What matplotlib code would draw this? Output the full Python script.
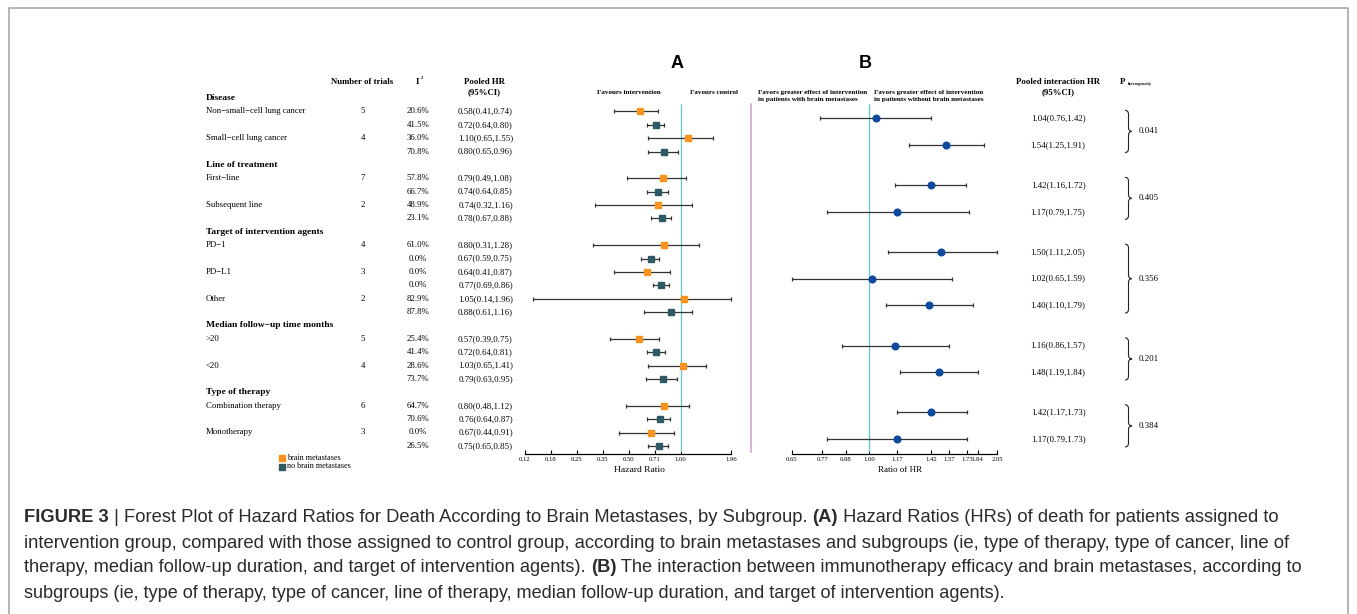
import matplotlib
matplotlib.use("Agg")
import matplotlib.pyplot as plt
from matplotlib.path import Path
from matplotlib.patches import PathPatch
from matplotlib import font_manager

# ---------------- data ----------------
sections = ["Disease", "Line of treatment", "Target of intervention agents",
            "Median follow\u2212up time months", "Type of therapy"]
subgroups = ["Non\u2212small\u2212cell lung cancer", "Small\u2212cell lung cancer",
             "First\u2212line", "Subsequent line",
             "PD\u22121", "PD\u2212L1", "Other",
             ">20", "<20",
             "Combination therapy", "Monotherapy"]
section_of = [0, 0, 1, 1, 2, 2, 2, 3, 3, 4, 4]
n_trials = [5, 4, 7, 2, 4, 3, 2, 5, 4, 6, 3]
i2_bm = ["20.6%", "36.0%", "57.8%", "48.9%", "61.0%", "0.0%", "82.9%", "25.4%", "28.6%", "64.7%", "0.0%"]
i2_nbm = ["41.5%", "70.8%", "66.7%", "23.1%", "0.0%", "0.0%", "87.8%", "41.4%", "73.7%", "70.6%", "26.5%"]
hr_bm = [0.58, 1.10, 0.79, 0.74, 0.80, 0.64, 1.05, 0.57, 1.03, 0.80, 0.67]
lo_bm = [0.41, 0.65, 0.49, 0.32, 0.31, 0.41, 0.14, 0.39, 0.65, 0.48, 0.44]
hi_bm = [0.74, 1.55, 1.08, 1.16, 1.28, 0.87, 1.96, 0.75, 1.41, 1.12, 0.91]
hr_nbm = [0.72, 0.80, 0.74, 0.78, 0.67, 0.77, 0.88, 0.72, 0.79, 0.76, 0.75]
lo_nbm = [0.64, 0.65, 0.64, 0.67, 0.59, 0.69, 0.61, 0.64, 0.63, 0.64, 0.65]
hi_nbm = [0.80, 0.96, 0.85, 0.88, 0.75, 0.86, 1.16, 0.81, 0.95, 0.87, 0.85]
int_hr = [1.04, 1.54, 1.42, 1.17, 1.50, 1.02, 1.40, 1.16, 1.48, 1.42, 1.17]
int_lo = [0.76, 1.25, 1.16, 0.79, 1.11, 0.65, 1.10, 0.86, 1.19, 1.17, 0.79]
int_hi = [1.42, 1.91, 1.72, 1.75, 2.05, 1.59, 1.79, 1.57, 1.84, 1.73, 1.73]
p_het = ["0.041", "0.405", "0.356", "0.201", "0.384"]

ticks_A = [0.125, 0.177, 0.25, 0.354, 0.5, 0.707, 1.0, 1.96]
ticklabels_A = ["0.12", "0.18", "0.25", "0.35", "0.50", "0.71", "1.00", "1.96"]
ticks_B = [0.65, 0.77, 0.88, 1.00, 1.17, 1.42, 1.57, 1.73, 1.84, 2.05]
ticklabels_B = ["0.65", "0.77", "0.88", "1.00", "1.17", "1.42", "1.57", "1.73", "1.84", "2.05"]

# ---------------- layout ----------------
W, H = 1357, 614
SERIF = "Liberation Serif"
SANS = "Liberation Sans"
C_BM = "#F7931E"
C_NBM = "#2F5A63"
C_INT = "#0D4A9E"
C_REF = "#62C3CF"
C_SEP = "#C9A3CF"
C_CI = "#333333"

def has_font(name):
    try:
        font_manager.findfont(font_manager.FontProperties(family=name), fallback_to_default=False)
        return True
    except Exception:
        return False

CAP_FONT = SANS
for cand in ["Liberation Sans Narrow", "Arial Narrow"]:
    if has_font(cand):
        CAP_FONT = cand
        break

Y0, STEP = 98.0, 13.38

def rowy(r):
    return Y0 + STEP * r

header_rows, bm_rows, nbm_rows = [], [], []
r = 0
for s in range(len(sections)):
    header_rows.append(r)
    r += 1
    for i, so in enumerate(section_of):
        if so == s:
            bm_rows.append(r)
            nbm_rows.append(r + 1)
            r += 2

fig = plt.figure(figsize=(W / 100, H / 100), dpi=100)
ax0 = fig.add_axes([0, 0, 1, 1])
ax0.set_xlim(0, W)
ax0.set_ylim(H, 0)
ax0.axis("off")

def rect(x0, y0, x1, y1):
    return [x0 / W, 1 - y1 / H, (x1 - x0) / W, (y1 - y0) / H]

# frame
ax0.plot([9, 9, 1348, 1348], [H, 8, 8, H], color="#A8A8A8", lw=1.2, solid_capstyle="butt")

# ---------------- table ----------------
FS = 6.3
ax0.text(362.5, 82, "Number of trials", family=SERIF, fontsize=FS, fontweight="bold", ha="center", va="center")
ax0.text(417, 82, "I", family=SERIF, fontsize=FS, fontweight="bold", ha="center", va="center")
ax0.text(420.5, 78, "2", family=SERIF, fontsize=3.3, fontweight="bold", ha="left", va="center")
ax0.text(484, 82, "Pooled HR", family=SERIF, fontsize=FS, fontweight="bold", ha="center", va="center")
ax0.text(484, 92.5, "(95%CI)", family=SERIF, fontsize=FS, fontweight="bold", ha="center", va="center")

for s, hr_ in zip(sections, header_rows):
    ax0.text(206, rowy(hr_), s, family=SERIF, fontsize=6.8, fontweight="bold", ha="left", va="center")

for i in range(len(subgroups)):
    yb, yn = rowy(bm_rows[i]), rowy(nbm_rows[i])
    ax0.text(206, yb, subgroups[i], family=SERIF, fontsize=FS, ha="left", va="center")
    ax0.text(363, yb, str(n_trials[i]), family=SERIF, fontsize=FS, ha="center", va="center")
    ax0.text(418, yb, i2_bm[i], family=SERIF, fontsize=FS, ha="center", va="center")
    ax0.text(418, yn, i2_nbm[i], family=SERIF, fontsize=FS, ha="center", va="center")
    ax0.text(485.5, yb, f"{hr_bm[i]:.2f}({lo_bm[i]:.2f},{hi_bm[i]:.2f})", family=SERIF, fontsize=FS, ha="center", va="center")
    ax0.text(485.5, yn, f"{hr_nbm[i]:.2f}({lo_nbm[i]:.2f},{hi_nbm[i]:.2f})", family=SERIF, fontsize=FS, ha="center", va="center")
    ax0.text(1058, (yb + yn) / 2, f"{int_hr[i]:.2f}({int_lo[i]:.2f},{int_hi[i]:.2f})", family=SERIF, fontsize=FS, ha="center", va="center")

# panel letters and headers
ax0.text(677, 64, "A", family=SANS, fontsize=13, fontweight="bold", ha="center", va="center")
ax0.text(865, 64, "B", family=SANS, fontsize=13, fontweight="bold", ha="center", va="center")
ax0.text(629, 92, "Favours intervention", family=SERIF, fontsize=5.1, fontweight="bold", ha="center", va="center")
ax0.text(714, 92, "Favours control", family=SERIF, fontsize=5.1, fontweight="bold", ha="center", va="center")
for xh, txt in [(758, "Favors greater effect of intervention\nin patients with brain metastases"),
                (874, "Favors greater effect of intervention\nin patients without brain metastases")]:
    ax0.text(xh, 96, txt, family=SERIF, fontsize=5.1, fontweight="bold", ha="left", va="center", linespacing=1.35)
ax0.text(1058, 82, "Pooled interaction HR", family=SERIF, fontsize=FS, fontweight="bold", ha="center", va="center")
ax0.text(1058, 92, "(95%CI)", family=SERIF, fontsize=FS, fontweight="bold", ha="center", va="center")
ax0.text(1123, 82, "P", family=SERIF, fontsize=FS, fontweight="bold", ha="center", va="center")
ax0.text(1128, 83.5, "heterogeneity", family=SERIF, fontsize=3, fontweight="bold", ha="left", va="center")

# separator line
ax0.plot([751, 751], [104, 452], color=C_SEP, lw=1.1)

def brace(x, yt, yb, w=7, rr=4):
    ym = (yt + yb) / 2
    xm = x + w / 2
    verts = [(x, yt), (xm, yt), (xm, yt + rr), (xm, ym - rr), (xm, ym), (x + w, ym),
             (xm, ym), (xm, ym + rr), (xm, yb - rr), (xm, yb), (x, yb)]
    codes = [Path.MOVETO, Path.CURVE3, Path.CURVE3, Path.LINETO, Path.CURVE3, Path.CURVE3,
             Path.CURVE3, Path.CURVE3, Path.LINETO, Path.CURVE3, Path.CURVE3]
    ax0.add_patch(PathPatch(Path(verts, codes), fill=False, lw=0.8, ec="#222222"))

for s in range(len(sections)):
    idx = [i for i, so in enumerate(section_of) if so == s]
    yt = rowy(bm_rows[idx[0]]) - 1
    yb = rowy(nbm_rows[idx[-1]]) + 1
    brace(1125, yt, yb)
    ax0.text(1139, (yt + yb) / 2, p_het[s], family=SERIF, fontsize=FS, ha="left", va="center")

# ---------------- forest axes ----------------
AX_BOTTOM = 454
bottom_row = (AX_BOTTOM - Y0) / STEP
top_row = -0.45

def setup(ax, ticks, labels, lo, hi):
    ax.set_xscale("log", base=2)
    ax.set_xlim(lo, hi)
    ax.set_ylim(bottom_row, top_row)
    ax.patch.set_alpha(0)
    for sp in ["top", "left", "right"]:
        ax.spines[sp].set_visible(False)
    ax.spines["bottom"].set_linewidth(0.9)
    ax.set_yticks([])
    ax.set_xticks(ticks)
    ax.set_xticklabels(labels, family=SERIF, fontsize=4.8)
    ax.minorticks_off()
    ax.tick_params(axis="x", direction="in", length=3, width=0.8, pad=2.5)

axA = fig.add_axes(rect(525, Y0 + STEP * top_row, 731, AX_BOTTOM))
setup(axA, ticks_A, ticklabels_A, 0.125, 1.96)
axA.vlines(1.0, 0.45, bottom_row - 0.15, color=C_REF, lw=0.9)
axA.errorbar(hr_bm, bm_rows, xerr=[[h - l for h, l in zip(hr_bm, lo_bm)], [u - h for h, u in zip(hr_bm, hi_bm)]],
             fmt="s", color=C_BM, ms=5, ecolor=C_CI, elinewidth=0.9, capsize=1.6, capthick=0.9, clip_on=False, zorder=3)
axA.errorbar(hr_nbm, nbm_rows, xerr=[[h - l for h, l in zip(hr_nbm, lo_nbm)], [u - h for h, u in zip(hr_nbm, hi_nbm)]],
             fmt="s", color=C_NBM, ms=5, ecolor=C_CI, elinewidth=0.9, capsize=1.6, capthick=0.9, clip_on=False, zorder=3)

axB = fig.add_axes(rect(792, Y0 + STEP * top_row, 997, AX_BOTTOM))
setup(axB, ticks_B, ticklabels_B, 0.65, 2.05)
axB.vlines(1.0, 0.45, bottom_row - 0.15, color=C_REF, lw=0.9)
mid_rows = [b + 0.5 for b in bm_rows]
axB.errorbar(int_hr, mid_rows, xerr=[[h - l for h, l in zip(int_hr, int_lo)], [u - h for h, u in zip(int_hr, int_hi)]],
             fmt="o", color=C_INT, ms=4.8, ecolor=C_CI, elinewidth=0.9, capsize=1.6, capthick=0.9, clip_on=False, zorder=3)

ax0.text(639, 470, "Hazard Ratio", family=SERIF, fontsize=6.8, ha="center", va="center")
ax0.text(900, 470, "Ratio of HR", family=SERIF, fontsize=6.5, ha="center", va="center")

# legend
ax0.plot([282], [457.5], marker="s", ms=4.2, color=C_BM, ls="none")
ax0.plot([282], [466.5], marker="s", ms=4.2, color=C_NBM, ls="none")
ax0.text(287, 457.5, "brain metastases", family=SERIF, fontsize=5.9, ha="left", va="center")
ax0.text(287, 466.5, "no brain metastases", family=SERIF, fontsize=5.9, ha="left", va="center")

# ---------------- caption ----------------
cap_lines = [
    [("FIGURE 3", "bold"), (" | Forest Plot of Hazard Ratios for Death According to Brain Metastases, by Subgroup. ", "normal"),
     ("(A)", "bold"), (" Hazard Ratios (HRs) of death for patients assigned to", "normal")],
    [("intervention group, compared with those assigned to control group, according to brain metastases and subgroups (ie, type of therapy, type of cancer, line of", "normal")],
    [("therapy, median follow-up duration, and target of intervention agents). ", "normal"), ("(B)", "bold"),
     (" The interaction between immunotherapy efficacy and brain metastases, according to", "normal")],
    [("subgroups (ie, type of therapy, type of cancer, line of therapy, median follow-up duration, and target of intervention agents).", "normal")],
]
cap_y = [518, 543, 568, 594]
cap_end = [1292, 1316, 1295, 1005]
renderer = fig.canvas.get_renderer()

def draw_caption_line(segs, x, y, size):
    arts = []
    cx = x
    for txt, wt in segs:
        t = ax0.text(cx, y, txt, family=CAP_FONT, fontsize=size, fontweight=wt, color="#2B2B2B",
                     ha="left", va="center")
        bb = t.get_window_extent(renderer)
        cx += bb.width
        arts.append(t)
    return arts, cx

sizes = []
for segs, y, xe in zip(cap_lines, cap_y, cap_end):
    arts, xend = draw_caption_line(segs, 24, y, 12)
    for a in arts:
        a.remove()
    sizes.append(12 * (xe - 24) / (xend - 24))
mean_size = sum(sizes) / len(sizes)
for segs, y, sz in zip(cap_lines, cap_y, sizes):
    # fit each line to its width, but keep sizes close to the common size
    draw_caption_line(segs, 24, y, 0.5 * sz + 0.5 * mean_size)

fig.savefig("out.png", dpi=100)
